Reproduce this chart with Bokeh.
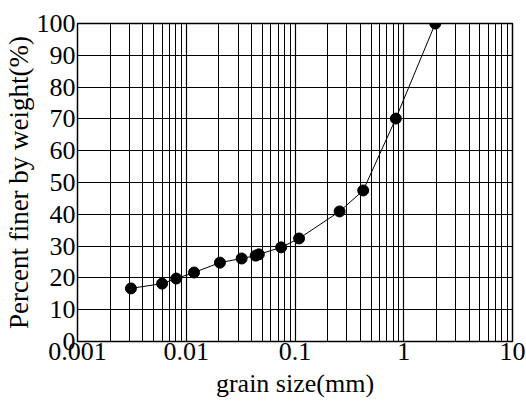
from bokeh.plotting import figure
from bokeh.models import FixedTicker
from bokeh.embed import file_html
from bokeh.resources import INLINE

grain_size = [0.0031, 0.006, 0.0081, 0.0118, 0.0204, 0.0323, 0.0435, 0.0465, 0.0746, 0.109, 0.257, 0.424, 0.845, 1.95]
percent_finer = [16.7, 18.2, 19.8, 21.7, 24.8, 26.1, 27.0, 27.4, 29.6, 32.4, 40.9, 47.5, 70.1, 100.0]

x_major = [0.001, 0.01, 0.1, 1, 10]
x_labels = ["0.001", "0.01", "0.1", "1", "10"]
x_minor = [m * d for d in [0.001, 0.01, 0.1, 1] for m in range(2, 10)]
y_ticks = list(range(0, 101, 10))

FONT = "Liberation Serif"

p = figure(width=526, height=405, x_axis_type="log", x_range=(0.001, 10), y_range=(0, 100),
           output_backend="svg", toolbar_location=None,
           min_border_left=72, min_border_right=14, min_border_top=23, min_border_bottom=64)

p.xaxis.ticker = FixedTicker(ticks=x_major, minor_ticks=x_minor)
p.xaxis.major_label_overrides = {t: l for t, l in zip(x_major, x_labels)}
p.yaxis.ticker = FixedTicker(ticks=y_ticks)

for ax in (p.xaxis, p.yaxis):
    ax.axis_line_color = None
    ax.major_tick_line_color = None
    ax.minor_tick_line_color = None
    ax.major_tick_out = 0
    ax.minor_tick_out = 0
    ax.major_label_text_font = FONT
    ax.major_label_text_font_size = "26px"
    ax.major_label_text_color = "black"
    ax.axis_label_text_font = FONT
    ax.axis_label_text_font_size = "26px"
    ax.axis_label_text_font_style = "normal"
    ax.axis_label_text_color = "black"

p.yaxis.axis_label_text_font_size = "27px"
p.xaxis.major_label_standoff = 1
p.yaxis.major_label_standoff = 2
p.xaxis.axis_label = "grain size(mm)"
p.yaxis.axis_label = "Percent finer by weight(%)"
p.xaxis.axis_label_standoff = 6
p.yaxis.axis_label_standoff = 0

p.xgrid.grid_line_color = "black"
p.xgrid.grid_line_width = 1.2
p.xgrid.minor_grid_line_color = "black"
p.xgrid.minor_grid_line_width = 1.0
p.ygrid.grid_line_color = "black"
p.ygrid.grid_line_width = 1.2

p.outline_line_color = "black"
p.outline_line_width = 1.5

p.line(grain_size, percent_finer, line_color="black", line_width=1)
p.scatter(grain_size, percent_finer, size=11, fill_color="black", line_color="black")

open("out.html", "w").write(file_html(p, INLINE))
